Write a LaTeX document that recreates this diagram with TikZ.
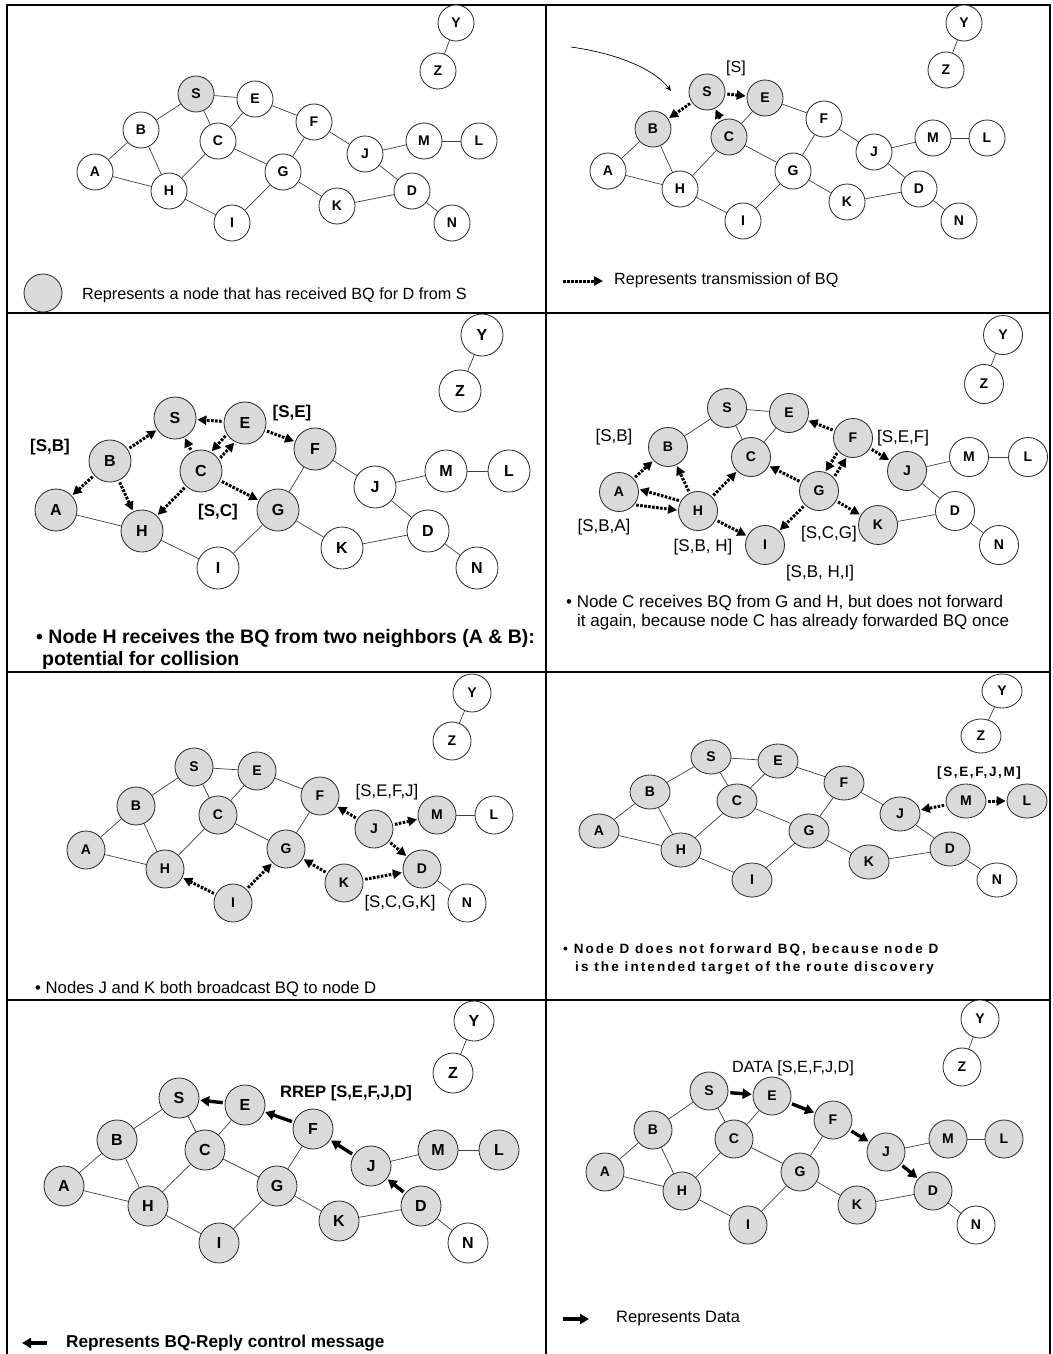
\documentclass[tikz,border=0pt]{standalone}
\usepackage{fontspec}
\setmainfont{Liberation Sans}
\usetikzlibrary{arrows.meta,shapes.geometric}
\definecolor{gy}{RGB}{218,218,218}
\definecolor{wh}{RGB}{255,255,255}
\newcommand\fs[1]{\fontsize{#1}{#1}\selectfont}
\newcommand\placenodes[3]{\foreach \n/\x/\y/\f in {#3} {\node[nd,#2,fill=\f] (#1\n) at (\x,\y) {\n};}}
\newcommand\thinedges[2]{\foreach \a/\b in {#2} {\draw[edge] (#1\a) -- (#1\b);}}
\tikzset{
 nd/.style={circle, draw=black!85, line width=0.8pt, inner sep=0pt, font=\bfseries\fs{14}},
 edge/.style={draw=black!75, line width=0.7pt},
 bq/.style={line width=3pt, dash pattern=on 2.6pt off 1.4pt, shorten <=2pt, shorten >=1pt, -{Triangle[length=9pt,width=9pt]}},
 dat/.style={line width=3.4pt, shorten <=2pt, shorten >=1pt, -{Triangle[length=9pt,width=10pt]}},
 grid/.style={line width=2pt},
 txt/.style={inner sep=0pt, anchor=west},
}
\begin{document}
\begin{tikzpicture}[x=1pt,y=-1pt]
\useasboundingbox (0,0) rectangle (1052,1354);
\fill[white] (0,0) rectangle (1052,1354);
% grid
\draw[grid] (7,1354) -- (7,5) -- (1050,5) -- (1050,1354);
\draw[grid] (546,5) -- (546,1354);
\draw[grid] (7,313) -- (1050,313);
\draw[grid] (7,672) -- (1050,672);
\draw[grid] (7,1000) -- (1050,1000);

% ---------- Panel 1
\placenodes{p1}{minimum size=36pt}{S/196/94/gy, E/255/99/wh, B/141/130/wh, C/218/141/wh, F/314/122/wh, J/365/154/wh, M/424/141/wh, L/479/141/wh, A/95/172/wh, H/169/191/wh, G/283/172/wh, K/337/206/wh, D/412/191/wh, N/452/223/wh, I/232/223/wh, Y/456/23/wh, Z/438/71/wh}
\thinedges{p1}{S/E,S/B,S/C,E/C,E/F,B/A,B/H,A/H,C/H,C/G,H/I,G/I,G/F,G/K,F/J,J/M,M/L,J/D,K/D,D/N,Y/Z}
\node[circle, draw=black!85, line width=0.8pt, fill=gy, minimum size=38pt] (p1leg) at (43,293) {};
\node[txt, font=\fs{16.2}] (p1t) at (82,295) {Represents a node that has received BQ for D from S};

% ---------- Panel 2
\placenodes{p2}{minimum size=36pt}{S/707/92/gy, E/765/98/gy, B/653/129/gy, C/729/137/gy, F/824/119/wh, J/874/152/wh, M/933/138/wh, L/987/138/wh, A/608/171/wh, H/680/189/wh, G/793/171/wh, K/847/202/wh, D/919/189/wh, N/959/221/wh, I/743/221/wh, Y/964/23/wh, Z/946/70/wh}
\thinedges{p2}{E/C,E/F,B/A,B/H,A/H,C/H,C/G,H/I,G/I,G/F,G/K,F/J,J/M,M/L,J/D,K/D,D/N,Y/Z}
\draw[bq] (p2S) -- (p2E);
\draw[bq] (p2S) -- (p2B);
\draw[bq] (p2C) -- (p2S);
\node[font=\fs{16}] (p2l1) at (736,68) {[S]};
\coordinate (p2cs) at (571,47);
\coordinate (p2ce) at (671,91);
\draw[line width=0.7pt, -{Stealth[length=6pt,width=5pt]}] (p2cs) .. controls (620,54) and (655,70) .. (p2ce);
\coordinate (p2la) at (563,281);
\coordinate (p2lb) at (603,281);
\draw[bq, shorten <=0pt, shorten >=0pt] (p2la) -- (p2lb);
\node[txt, font=\fs{16.2}] (p2t) at (614,280) {Represents transmission of BQ};

% ---------- Panel 3
\placenodes{p3}{minimum size=42pt, font=\bfseries\fs{16}}{S/175/418/gy, E/245/423/gy, B/110/461/gy, C/201/471/gy, F/315/449/gy, J/375/487/wh, M/446/471/wh, L/509/471/wh, A/56/510/gy, H/142/531/gy, G/278/510/gy, K/342/548/wh, D/428/531/wh, N/477/568/wh, I/218/568/wh, Y/482/335/wh, Z/460/391/wh}
\thinedges{p3}{A/H,H/I,G/I,G/F,G/K,F/J,J/M,M/L,J/D,K/D,D/N,Y/Z}
\draw[bq] (p3E) -- (p3S);
\draw[bq] (p3E) -- (p3F);
\draw[bq] (p3B) -- (p3S);
\draw[bq] (p3C) -- (p3S);
\draw[bq] (p3E.212) -- (p3C.62);
\draw[bq] (p3C.33) -- (p3E.242);
\draw[bq] (p3B) -- (p3A);
\draw[bq] (p3B) -- (p3H);
\draw[bq] (p3C) -- (p3H);
\draw[bq] (p3C) -- (p3G);
\node[font=\bfseries\fs{17}] (p3l1) at (292,413) {[S,E]};
\node[font=\bfseries\fs{17}] (p3l2) at (50,447) {[S,B]};
\node[font=\bfseries\fs{17}] (p3l3) at (218,512) {[S,C]};
\node[txt, font=\bfseries\fs{19.5}] (p3t1) at (36,638) {• Node H receives the BQ from two neighbors (A \& B):};
\node[txt, font=\bfseries\fs{19.5}] (p3t2) at (42,660) {potential for collision};

% ---------- Panel 4
\placenodes{p4}{minimum size=39pt}{S/727/408/gy, E/789/413/gy, B/668/447/gy, C/751/457/gy, F/853/438/gy, J/907/471/gy, M/969/457/wh, L/1028/457/wh, A/619/492/gy, H/698/511/gy, G/819/491/gy, K/878/525/gy, D/955/511/wh, N/999/545/wh, I/765/545/gy, Y/1003/335/wh, Z/984/384/wh}
\thinedges{p4}{S/E,S/B,S/C,E/C,J/M,M/L,J/D,K/D,D/N,Y/Z}
\draw[bq] (p4A) -- (p4B);
\draw[bq] (p4H.150) -- (p4A.8);
\draw[bq] (p4A.-40) -- (p4H.178);
\draw[bq] (p4H) -- (p4B);
\draw[bq] (p4H) -- (p4C);
\draw[bq] (p4H) -- (p4I);
\draw[bq] (p4G) -- (p4C);
\draw[bq] (p4G) -- (p4I);
\draw[bq] (p4G) -- (p4K);
\draw[bq] (p4F) -- (p4E);
\draw[bq] (p4F.222) -- (p4G.72);
\draw[bq] (p4G.42) -- (p4F.252);
\draw[bq] (p4F) -- (p4J);
\node[font=\fs{17}] (p4l1) at (614,437) {[S,B]};
\node[font=\fs{17}] (p4l2) at (903,438) {[S,E,F]};
\node[font=\fs{17}] (p4l3) at (604,527) {[S,B,A]};
\node[font=\fs{17}] (p4l4) at (703,547) {[S,B, H]};
\node[font=\fs{17}] (p4l5) at (829,534) {[S,C,G]};
\node[font=\fs{17}] (p4l6) at (820,573) {[S,B, H,I]};
\node[txt, font=\fs{17}] (p4t1) at (566,603) {• Node C receives BQ from G and H, but does not forward};
\node[txt, font=\fs{17}] (p4t2) at (577,622) {it again, because node C has already forwarded BQ once};

% ---------- Panel 5
\placenodes{p5}{minimum size=38pt}{S/194/767/gy, E/257/771/gy, B/136/806/gy, C/218/815/gy, F/320/796/gy, J/374/829/gy, M/437/815/gy, L/494/815/wh, A/86/850/gy, H/165/869/gy, G/286/849/gy, K/344/883/gy, D/422/869/gy, N/467/903/wh, I/233/903/gy, Y/472/693/wh, Z/452/741/wh}
\thinedges{p5}{S/E,S/B,S/C,E/C,E/F,B/A,B/H,A/H,C/H,C/G,G/F,M/L,D/N,Y/Z}
\draw[bq] (p5I) -- (p5H);
\draw[bq] (p5I) -- (p5G);
\draw[bq] (p5K) -- (p5G);
\draw[bq] (p5K) -- (p5D);
\draw[bq] (p5J) -- (p5F);
\draw[bq] (p5J) -- (p5M);
\draw[bq] (p5J) -- (p5D);
\node[font=\fs{16.8}] (p5l1) at (387,792) {[S,E,F,J]};
\node[font=\fs{16.8}] (p5l2) at (400,903) {[S,C,G,K]};
\node[txt, font=\fs{16.7}] (p5t) at (35,989) {• Nodes J and K both broadcast BQ to node D};

% ---------- Panel 6
\placenodes{p6}{ellipse, minimum width=40pt, minimum height=34pt}{S/711/757/gy, E/778/761/gy, B/650/792/gy, C/737/801/gy, F/844/783/gy, J/900/814/gy, M/966/801/gy, L/1027/801/gy, A/599/831/gy, H/681/850/gy, G/809/831/gy, K/869/862/gy, D/950/849/gy, N/997/880/wh, I/752/880/gy, Y/1002/691/wh, Z/981/736/wh}
\thinedges{p6}{S/E,S/B,S/C,E/C,E/F,B/A,B/H,A/H,C/H,C/G,H/I,G/I,G/F,G/K,F/J,J/D,K/D,D/N,Y/Z}
\draw[bq] (p6M) -- (p6J);
\draw[bq] (p6M) -- (p6L);
\node[font=\bfseries\fs{13.5}\addfontfeatures{LetterSpace=12}] (p6l1) at (979,773) {[S,E,F,J,M]};
\node[txt, font=\bfseries\fs{13.5}\addfontfeatures{LetterSpace=15.5}] (p6t1) at (563,950) {• Node D does not forward BQ, because node D};
\node[txt, font=\bfseries\fs{13.5}\addfontfeatures{LetterSpace=15.5}] (p6t2) at (575,968) {is the intended target of the route discovery};

% ---------- Panel 7
\placenodes{p7}{minimum size=40pt, font=\bfseries\fs{16}}{S/179/1098/gy, E/245/1105/gy, B/117/1140/gy, C/205/1150/gy, F/313/1129/gy, J/371/1166/gy, M/438/1150/gy, L/499/1150/gy, A/64/1186/gy, H/148/1206/gy, G/277/1186/gy, K/339/1221/gy, D/421/1206/gy, N/468/1243/wh, I/219/1243/gy, Y/474/1021/wh, Z/453/1073/wh}
\thinedges{p7}{S/B,S/C,E/C,B/A,B/H,A/H,C/H,C/G,H/I,G/I,G/F,G/K,J/M,M/L,K/D,D/N,Y/Z}
\draw[dat] (p7E) -- (p7S);
\draw[dat] (p7F) -- (p7E);
\draw[dat] (p7J) -- (p7F);
\draw[dat] (p7D) -- (p7J);
\node[font=\bfseries\fs{16.6}] (p7l1) at (346,1093) {RREP [S,E,F,J,D]};
\coordinate (p7la) at (47,1343);
\coordinate (p7lb) at (22,1343);
\draw[dat, shorten <=0pt, shorten >=0pt] (p7la) -- (p7lb);
\node[txt, font=\bfseries\fs{17.2}] (p7t) at (66,1343) {Represents BQ-Reply control message};

% ---------- Panel 8
\placenodes{p8}{minimum size=38pt}{S/709/1091/gy, E/772/1096/gy, B/653/1130/gy, C/734/1139/gy, F/833/1120/gy, J/886/1152/gy, M/948/1139/gy, L/1004/1139/gy, A/605/1172/gy, H/682/1191/gy, G/800/1172/gy, K/857/1205/gy, D/933/1191/gy, N/976/1225/wh, I/748/1225/gy, Y/980/1019/wh, Z/962/1067/wh}
\thinedges{p8}{S/B,S/C,E/C,B/A,B/H,A/H,C/H,C/G,H/I,G/I,G/F,G/K,J/M,M/L,K/D,D/N,Y/Z}
\draw[dat] (p8S) -- (p8E);
\draw[dat] (p8E) -- (p8F);
\draw[dat] (p8F) -- (p8J);
\draw[dat] (p8J) -- (p8D);
\node[font=\fs{16.2}] (p8l1) at (793,1068) {DATA [S,E,F,J,D]};
\coordinate (p8la) at (563,1319);
\coordinate (p8lb) at (589,1319);
\draw[dat, shorten <=0pt, shorten >=0pt] (p8la) -- (p8lb);
\node[txt, font=\fs{16.5}] (p8t) at (616,1319) {Represents Data};
\end{tikzpicture}
\end{document}
